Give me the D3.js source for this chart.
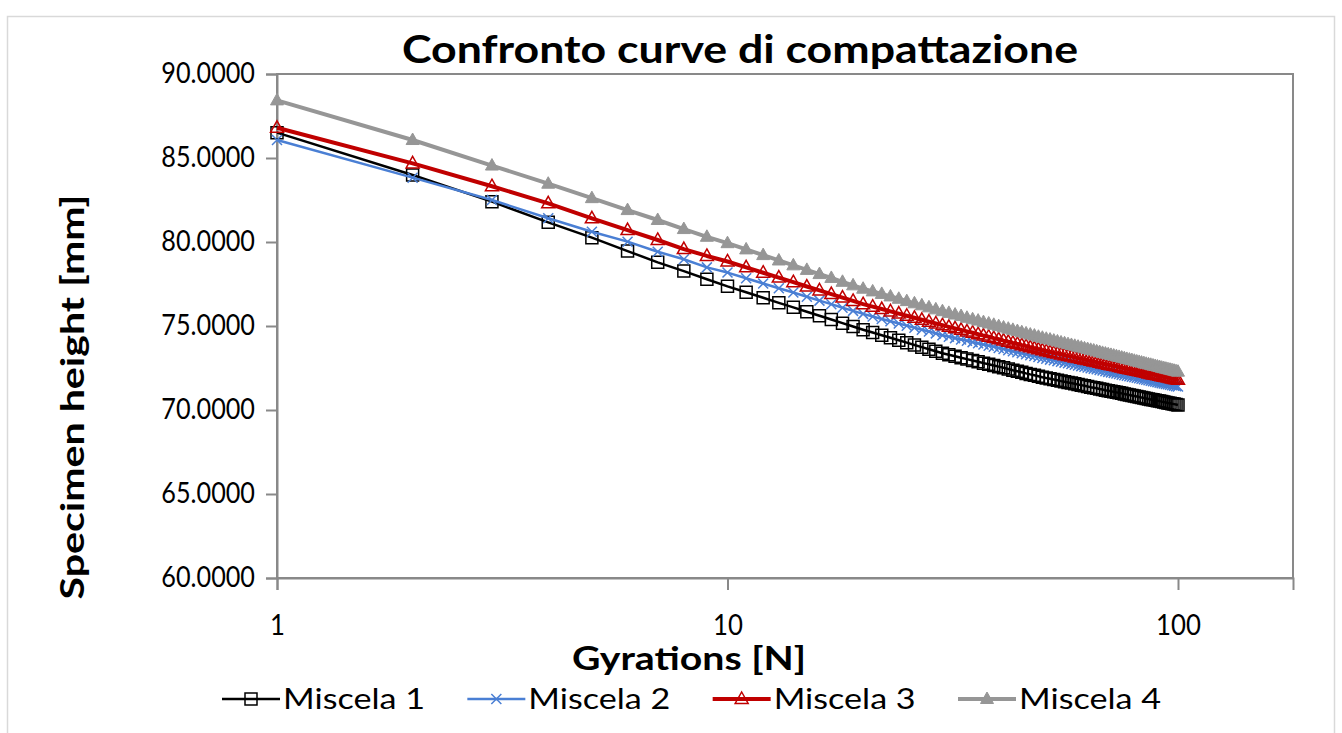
<!DOCTYPE html>
<html><head><meta charset="utf-8">
<script src="https://cdn.jsdelivr.net/npm/d3@7"></script>
<style>body{margin:0;background:#fff} svg{display:block}</style>
</head><body><svg id="chart" width="1342" height="733"></svg>
<script>
const chartTitle = "Confronto curve di compattazione";
const xTitle = "Gyrations [N]";
const yTitle = "Specimen height [mm]";
const seriesNames = ["Miscela 1", "Miscela 2", "Miscela 3", "Miscela 4"];
const xTicks = [1, 10, 100];
const yTicks = [60, 65, 70, 75, 80, 85, 90];
const xDomain = [1, 180];
const yDomain = [60, 90];

const gyrations = [1,2,3,4,5,6,7,8,9,10,11,12,13,14,15,16,17,18,19,20,
21,22,23,24,25,26,27,28,29,30,31,32,33,34,35,36,37,38,39,40,
41,42,43,44,45,46,47,48,49,50,51,52,53,54,55,56,57,58,59,60,
61,62,63,64,65,66,67,68,69,70,71,72,73,74,75,76,77,78,79,80,
81,82,83,84,85,86,87,88,89,90,91,92,93,94,95,96,97,98,99,100];

const miscela1 = [86.51,83.99,82.40,81.17,80.26,79.46,78.79,78.27,77.78,77.36,
77.01,76.68,76.38,76.11,75.85,75.61,75.39,75.17,74.97,74.78,
74.61,74.45,74.30,74.15,74.01,73.87,73.74,73.62,73.50,73.38,
73.29,73.20,73.11,73.03,72.95,72.87,72.79,72.72,72.65,72.58,
72.51,72.44,72.37,72.31,72.25,72.18,72.12,72.07,72.01,71.95,
71.90,71.86,71.81,71.77,71.72,71.68,71.64,71.60,71.56,71.52,
71.48,71.44,71.40,71.36,71.33,71.29,71.25,71.22,71.18,71.15,
71.12,71.08,71.05,71.02,70.99,70.95,70.92,70.89,70.86,70.83,
70.80,70.77,70.74,70.72,70.69,70.66,70.63,70.61,70.58,70.55,
70.53,70.50,70.47,70.45,70.42,70.40,70.37,70.35,70.33,70.30];

const miscela2 = [86.07,83.83,82.50,81.41,80.61,80.02,79.42,78.97,78.49,78.18,
77.84,77.53,77.25,76.99,76.74,76.51,76.30,76.09,75.90,75.72,
75.57,75.42,75.28,75.15,75.02,74.90,74.78,74.67,74.56,74.45,
74.36,74.28,74.20,74.12,74.04,73.97,73.90,73.83,73.76,73.69,
73.63,73.56,73.50,73.44,73.38,73.32,73.26,73.21,73.15,73.10,
73.05,73.00,72.96,72.91,72.87,72.82,72.78,72.74,72.69,72.65,
72.61,72.57,72.53,72.49,72.46,72.42,72.38,72.35,72.31,72.27,
72.24,72.21,72.17,72.14,72.10,72.07,72.04,72.01,71.98,71.95,
71.92,71.89,71.86,71.83,71.80,71.77,71.74,71.71,71.69,71.66,
71.63,71.60,71.58,71.55,71.53,71.50,71.47,71.45,71.42,71.40];

const miscela3 = [86.80,84.68,83.32,82.30,81.41,80.71,80.12,79.58,79.17,78.84,
78.49,78.17,77.88,77.61,77.35,77.12,76.90,76.69,76.49,76.30,
76.15,76.01,75.87,75.74,75.61,75.49,75.37,75.26,75.15,75.05,
74.95,74.86,74.77,74.68,74.60,74.51,74.43,74.36,74.28,74.21,
74.13,74.06,73.99,73.93,73.86,73.80,73.73,73.67,73.61,73.55,
73.50,73.45,73.40,73.36,73.31,73.26,73.22,73.18,73.13,73.09,
73.05,73.01,72.97,72.93,72.89,72.85,72.81,72.77,72.74,72.70,
72.67,72.63,72.60,72.56,72.53,72.49,72.46,72.43,72.40,72.36,
72.33,72.30,72.27,72.24,72.21,72.18,72.15,72.12,72.10,72.07,
72.04,72.01,71.98,71.96,71.93,71.90,71.88,71.85,71.83,71.80];

const miscela4 = [88.43,86.07,84.55,83.47,82.61,81.90,81.31,80.77,80.31,79.93,
79.56,79.22,78.90,78.61,78.34,78.09,77.86,77.63,77.42,77.22,
77.06,76.91,76.76,76.62,76.48,76.35,76.23,76.11,75.99,75.88,
75.78,75.68,75.59,75.49,75.40,75.32,75.23,75.15,75.07,74.99,
74.91,74.84,74.77,74.70,74.63,74.56,74.49,74.43,74.36,74.30,
74.24,74.19,74.13,74.08,74.02,73.97,73.92,73.87,73.82,73.77,
73.72,73.67,73.63,73.58,73.54,73.49,73.45,73.40,73.36,73.32,
73.28,73.24,73.20,73.16,73.12,73.08,73.04,73.00,72.97,72.93,
72.89,72.86,72.82,72.79,72.75,72.72,72.69,72.65,72.62,72.59,
72.56,72.52,72.49,72.46,72.43,72.40,72.37,72.34,72.31,72.28];

const seriesValues = [miscela1, miscela2, miscela3, miscela4];

// ---- styles ----
const styles = [
  {color: "#000000", width: 2.5, marker: "square"},
  {color: "#4a7fd4", width: 2.5, marker: "cross"},
  {color: "#c00000", width: 4,   marker: "triangleOpen"},
  {color: "#969696", width: 4,   marker: "triangleFilled"}
];
const FONT = "Lato, 'Open Sans', sans-serif";
const AXIS = "#898989";

// narrow a text like the reference's condensed face
function squash(sel, factor) {
  sel.each(function() {
    const w = this.getComputedTextLength();
    d3.select(this).attr("textLength", w * factor).attr("lengthAdjust", "spacingAndGlyphs");
  });
}

const svg = d3.select("#chart");
svg.append("rect").attr("x", 0).attr("y", 0).attr("width", 1342).attr("height", 733).attr("fill", "#fff");
svg.append("rect").attr("x", 7.5).attr("y", 16.5).attr("width", 1327).attr("height", 740)
  .attr("fill", "#fff").attr("stroke", "#d9d9d9").attr("stroke-width", 1.5);

const P = {left: 277, right: 1293, top: 74, bottom: 578};
const x = d3.scaleLog().domain(xDomain).range([P.left, P.right]);
const y = d3.scaleLinear().domain(yDomain).range([P.bottom, P.top]);

// plot area border
svg.append("rect").attr("x", P.left).attr("y", P.top)
  .attr("width", P.right - P.left).attr("height", P.bottom - P.top)
  .attr("fill", "none").attr("stroke", AXIS).attr("stroke-width", 2);

// y axis
const gy = svg.append("g").attr("transform", `translate(${P.left},0)`)
  .call(d3.axisLeft(y).tickValues(yTicks).tickFormat(d3.format(".4f")).tickSize(11).tickPadding(11));
gy.select(".domain").attr("stroke", AXIS).attr("stroke-width", 2);
gy.selectAll(".tick line").attr("stroke", AXIS).attr("stroke-width", 2);
gy.selectAll(".tick text").attr("font-family", FONT).attr("font-size", 28).attr("fill", "#000")
  .call(s => squash(s, 0.9));

// x axis
const gx = svg.append("g").attr("transform", `translate(0,${P.bottom})`)
  .call(d3.axisBottom(x).tickValues(xTicks).tickFormat(d3.format("d")).tickSize(12).tickPadding(25));
gx.select(".domain").attr("stroke", AXIS).attr("stroke-width", 2);
gx.selectAll(".tick line").attr("stroke", AXIS).attr("stroke-width", 2);
gx.selectAll(".tick text").attr("font-family", FONT).attr("font-size", 28).attr("fill", "#000")
  .call(s => squash(s, 0.92));

// marker paths
function markerPath(type) {
  switch (type) {
    case "square": return "M-6,-6H6V6H-6Z";
    case "cross": return "M-5,-5L5,5M-5,5L5,-5";
    default: return "M0,-7L6.5,4.5L-6.5,4.5Z";
  }
}
function styleMarker(sel, st) {
  if (st.marker === "triangleFilled") sel.attr("fill", st.color).attr("stroke", st.color).attr("stroke-width", 1);
  else sel.attr("fill", "none").attr("stroke", st.color).attr("stroke-width", 1.5);
}

const line = d3.line().x(d => x(d[0])).y(d => y(d[1]));
seriesValues.forEach((vals, i) => {
  const st = styles[i];
  const pts = gyrations.map((g, k) => [g, vals[k]]);
  const g = svg.append("g");
  g.append("path").datum(pts).attr("d", line).attr("fill", "none")
    .attr("stroke", st.color).attr("stroke-width", st.width).attr("stroke-linejoin", "round");
  g.selectAll("path.m").data(pts).join("path").attr("class", "m")
    .attr("transform", d => `translate(${x(d[0])},${y(d[1])})`)
    .attr("d", markerPath(st.marker))
    .call(s => styleMarker(s, st));
});

// titles
svg.append("text").attr("x", 740).attr("y", 63).attr("text-anchor", "middle")
  .attr("font-family", FONT).attr("font-weight", "bold").attr("font-size", 39)
  .attr("textLength", 676).attr("lengthAdjust", "spacingAndGlyphs").text(chartTitle);
svg.append("text").attr("x", 689).attr("y", 670).attr("text-anchor", "middle")
  .attr("font-family", FONT).attr("font-weight", "bold").attr("font-size", 32)
  .attr("textLength", 234).attr("lengthAdjust", "spacingAndGlyphs").text(xTitle);
svg.append("text").attr("transform", "translate(84,397) rotate(-90)").attr("text-anchor", "middle")
  .attr("font-family", FONT).attr("font-weight", "bold").attr("font-size", 33)
  .attr("textLength", 405).attr("lengthAdjust", "spacingAndGlyphs").text(yTitle);

// legend
const legX = d3.scalePoint().domain(seriesNames).range([222, 958]);
seriesNames.forEach((name, i) => {
  const st = styles[i];
  const x0 = legX(name), ly = 699;
  const g = svg.append("g");
  g.append("line").attr("x1", x0).attr("x2", x0 + 58).attr("y1", ly).attr("y2", ly)
    .attr("stroke", st.color).attr("stroke-width", st.width);
  g.append("path").attr("transform", `translate(${x0 + 29},${ly})`).attr("d", markerPath(st.marker))
    .call(s => styleMarker(s, st));
  g.append("text").attr("x", x0 + 61).attr("y", ly + 10).attr("font-family", FONT).attr("font-size", 29)
    .attr("textLength", 142).attr("lengthAdjust", "spacingAndGlyphs").text(name);
});
</script></body></html>
